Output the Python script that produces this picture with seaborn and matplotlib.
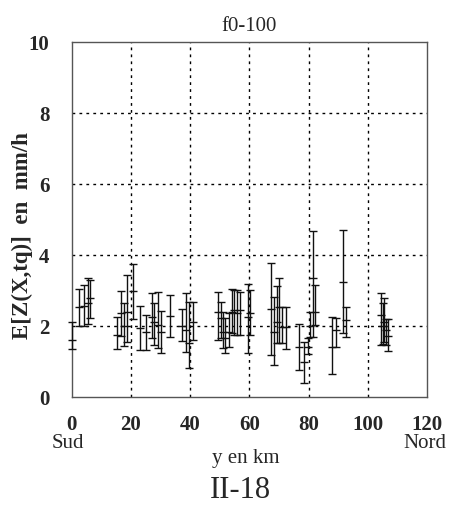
import matplotlib
matplotlib.use("Agg")
import matplotlib.pyplot as plt
import seaborn as sns
import pandas as pd

# ---- data ----
y_km = [0.0, 2.5, 4.2, 5.4, 6.2, 15.2, 16.5, 17.6, 18.7, 20.6,
        23.1, 25.0, 27.0, 27.9, 29.0, 30.1, 33.2, 37.1, 38.5, 39.6,
        41.0, 49.5, 50.3, 51.2, 51.7, 53.2, 54.0, 54.9, 55.9, 57.0,
        59.6, 60.2, 67.3, 68.4, 69.2, 70.0, 70.9, 72.3, 76.8, 78.5,
        79.8, 80.6, 81.6, 82.3, 87.9, 89.2, 91.5, 92.6, 104.6, 105.0,
        105.4, 106.1, 106.9]
mean_z = [1.60, 2.54, 2.57, 2.65, 2.78, 1.75, 2.37, 2.00, 2.40, 3.00,
          1.93, 1.84, 2.26, 2.12, 2.03, 1.84, 2.28, 2.00, 1.89, 1.51,
          2.12, 2.40, 2.22, 1.84, 1.65, 1.84, 2.40, 2.45, 2.37, 2.45,
          2.26, 2.36, 2.47, 1.84, 2.12, 2.54, 1.98, 1.96, 1.40, 1.00,
          1.40, 2.00, 3.34, 2.40, 1.42, 1.90, 3.25, 2.17, 2.30, 2.00,
          2.10, 1.90, 1.72]
low_z = [1.35, 2.00, 2.00, 2.05, 2.22, 1.34, 1.72, 1.45, 1.55, 2.20,
         1.32, 1.32, 1.65, 1.46, 1.37, 1.23, 1.70, 1.59, 1.28, 0.81,
         1.60, 1.60, 1.65, 1.37, 1.23, 1.42, 1.79, 1.75, 1.75, 1.75,
         1.23, 1.75, 1.18, 0.90, 1.51, 1.51, 1.51, 1.34, 0.76, 0.40,
         1.20, 1.70, 1.70, 2.03, 0.65, 1.42, 1.79, 1.68, 1.46, 1.50,
         1.55, 1.46, 1.30]
high_z = [2.10, 3.03, 3.15, 3.35, 3.30, 2.25, 3.00, 2.64, 3.44, 3.75,
          2.56, 2.30, 2.92, 2.66, 2.97, 2.42, 2.87, 2.47, 2.92, 2.68,
          2.68, 2.97, 2.68, 2.40, 2.22, 2.36, 3.03, 3.01, 3.01, 2.97,
          3.17, 3.01, 3.78, 2.83, 3.13, 3.34, 2.54, 2.53, 2.05, 1.56,
          1.65, 2.40, 4.68, 3.15, 2.26, 2.23, 4.70, 2.54, 2.94, 2.64,
          2.80, 2.19, 2.19]

x_ticks = [0, 20, 40, 60, 80, 100, 120]
y_ticks = [0, 2, 4, 6, 8, 10]

df = pd.DataFrame({"y": y_km, "m": mean_z, "lo": low_z, "hi": high_z})

sns.set_style("white")
plt.rcParams["font.family"] = ["Liberation Serif", "DejaVu Serif"]

fig = plt.figure(figsize=(4.49, 5.13), dpi=100)
ax = fig.add_axes([0.1597, 0.2261, 0.7914, 0.6920])

# error bars
eb = ax.errorbar(df["y"], df["m"],
                 yerr=[df["m"] - df["lo"], df["hi"] - df["m"]],
                 fmt="none", ecolor="#111111", elinewidth=1.0, capsize=3,
                 capthick=1.0, zorder=3)
for art in eb.lines[1] + eb.lines[2]:
    art.set_clip_on(False)
sns.scatterplot(data=df, x="y", y="m", marker="_", s=36, color="#111111",
                linewidth=1.0, ax=ax, zorder=4, legend=False, clip_on=False)

ax.set_xlim(0, 120)
ax.set_ylim(0, 10)
ax.set_xticks(x_ticks)
ax.set_yticks(y_ticks)
ax.set_xticklabels([str(t) for t in x_ticks], fontweight="bold", fontsize=15)
ax.set_yticklabels([str(t) for t in y_ticks], fontweight="bold", fontsize=15)
ax.tick_params(axis="both", length=0)
ax.tick_params(axis="x", pad=13)
ax.tick_params(axis="y", pad=16)

for v in [20, 40, 60, 80, 100]:
    ax.axvline(v, color="black", linestyle=(0, (2, 3)), linewidth=1.0, zorder=1)
for v in [2, 4, 6, 8]:
    ax.axhline(v, color="black", linestyle=(0, (2, 3)), linewidth=1.0, zorder=1)

for s in ax.spines.values():
    s.set_color("#555555")
    s.set_linewidth(1.0)

ax.set_xlabel("")
ax.set_ylabel("")
ax.set_title("f0-100", fontsize=15, pad=8)

fig.text(22 / 449, 1 - 236 / 513, "E[Z(X,tq)]  en  mm/h", rotation=90,
         ha="center", va="center", fontweight="bold", fontsize=16.5)
fig.text(246 / 449, 1 - 459 / 513, "y en km", ha="center", va="center", fontsize=15)
fig.text(68 / 449, 1 - 444 / 513, "Sud", ha="center", va="center", fontsize=15)
fig.text(425 / 449, 1 - 443 / 513, "Nord", ha="center", va="center", fontsize=15)
fig.text(240 / 449, 1 - 491 / 513, "II-18", ha="center", va="center", fontsize=22)

fig.savefig("out.png", dpi=100)
